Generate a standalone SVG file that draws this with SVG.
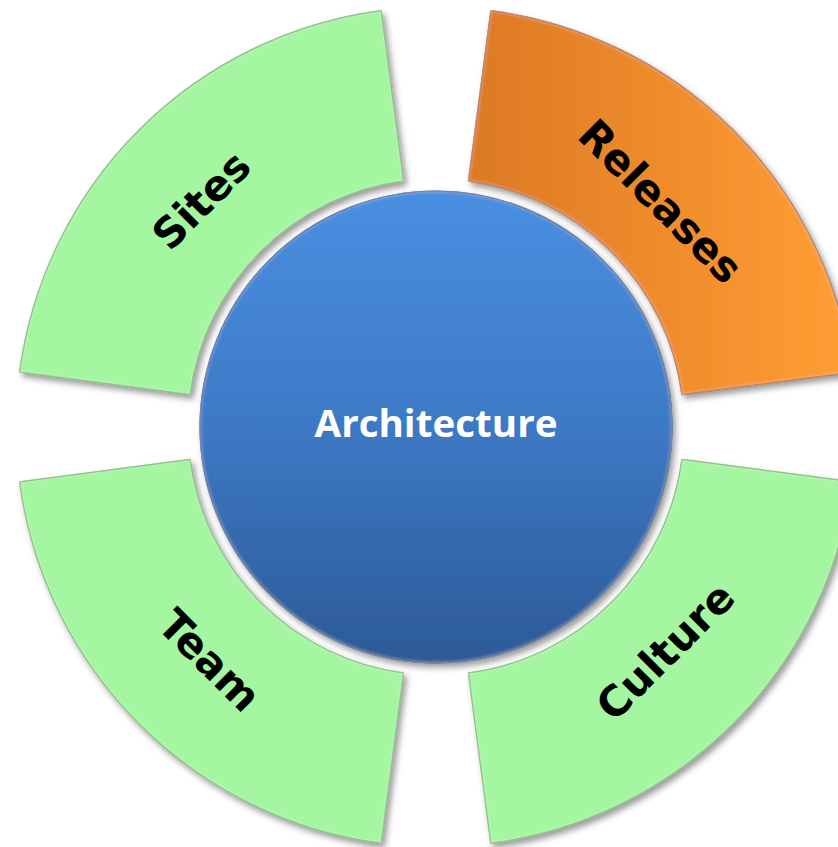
<svg xmlns="http://www.w3.org/2000/svg" width="838" height="847" viewBox="0 0 838 847">
  <style>
    .ring { stroke-width: 1.2; stroke-linejoin: round; filter: url(#bevel); }
    .green { fill: #A5F6A0; stroke: #74AE70; }
    .orange { fill: url(#orangeGrad); stroke: #A85A16; }
    .label { font-family: "DejaVu Sans", Verdana, sans-serif; font-weight: bold; font-size: 42px; fill: #000; text-anchor: middle; }
    .hub { font-family: "Open Sans", "Liberation Sans", sans-serif; font-weight: bold; font-size: 37px; fill: #fff; text-anchor: middle; }
  </style>
  <defs>
    <linearGradient id="orangeGrad" gradientUnits="userSpaceOnUse" x1="468" y1="0" x2="838" y2="0">
      <stop offset="0" stop-color="#DC7924"/>
      <stop offset="1" stop-color="#FF9D34"/>
    </linearGradient>
    <linearGradient id="blueGrad" x1="0" y1="0" x2="0" y2="1">
      <stop offset="0" stop-color="#4A8FE1"/>
      <stop offset="0.5" stop-color="#3D79C5"/>
      <stop offset="1" stop-color="#2C5A96"/>
    </linearGradient>
    <!-- drop shadow plus a soft light rim along the inside of each shape -->
    <filter id="bevel" x="-10%" y="-10%" width="125%" height="125%">
      <feGaussianBlur in="SourceAlpha" stdDeviation="3" result="blur"/>
      <feOffset in="blur" dx="3" dy="4" result="off"/>
      <feFlood flood-color="#000" flood-opacity="0.4"/>
      <feComposite in2="off" operator="in" result="shadow"/>
      <feGaussianBlur in="SourceAlpha" stdDeviation="2" result="inner"/>
      <feComposite in="SourceAlpha" in2="inner" operator="arithmetic" k2="1" k3="-1" result="edge"/>
      <feFlood flood-color="#fff" flood-opacity="0.4"/>
      <feComposite in2="edge" operator="in" result="rim"/>
      <feMerge>
        <feMergeNode in="shadow"/>
        <feMergeNode in="SourceGraphic"/>
        <feMergeNode in="rim"/>
      </feMerge>
    </filter>
  </defs>

  <rect width="838" height="847" fill="#fff"/>

  <g id="sites">
    <path class="ring green" d="M 19.6,372.2 A 420 420 0 0 1 381.2,10.6 L 403.6,181.1 A 248 248 0 0 0 190.1,394.6 Z"/>
    <text class="label" transform="translate(201,200) rotate(-45)" dy="0.36em">Sites</text>
  </g>

  <g id="releases">
    <path class="ring orange" d="M 490.8,10.6 A 420 420 0 0 1 852.4,372.2 L 681.9,394.6 A 248 248 0 0 0 468.4,181.1 Z"/>
    <text class="label" transform="translate(661,201) rotate(45)" dy="0.36em">Releases</text>
  </g>

  <g id="culture">
    <path class="ring green" d="M 852.4,481.8 A 420 420 0 0 1 490.8,843.4 L 468.4,672.9 A 248 248 0 0 0 681.9,459.4 Z"/>
    <text class="label" transform="translate(665,651) rotate(-45)" dy="0.36em">Culture</text>
  </g>

  <g id="team">
    <path class="ring green" d="M 381.2,843.4 A 420 420 0 0 1 19.6,481.8 L 190.1,459.4 A 248 248 0 0 0 403.6,672.9 Z"/>
    <text class="label" transform="translate(210,660) rotate(45)" dy="0.36em">Team</text>
  </g>

  <g id="architecture">
    <circle cx="436" cy="427" r="236" fill="url(#blueGrad)" stroke="#284F86" stroke-width="1.2" filter="url(#bevel)"/>
    <text class="hub" x="436" y="437" textLength="243" lengthAdjust="spacingAndGlyphs">Architecture</text>
  </g>

  <g id="connectors"/>
</svg>
